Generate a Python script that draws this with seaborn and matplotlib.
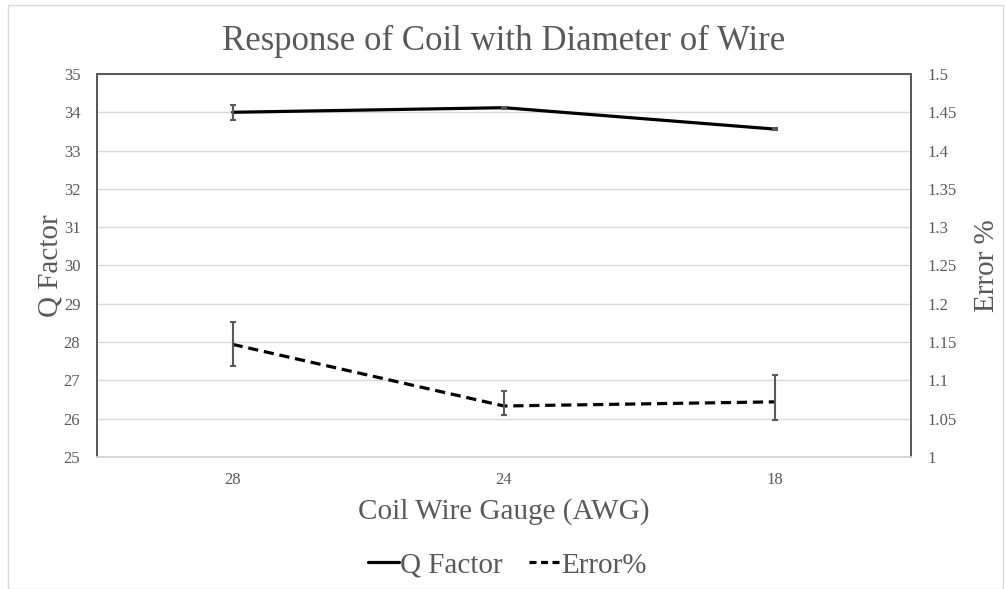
import matplotlib
matplotlib.use("Agg")
import matplotlib.pyplot as plt
import numpy as np
import pandas as pd
import seaborn as sns
from matplotlib.patches import Rectangle
from matplotlib.lines import Line2D

# data
gauges = ["28", "24", "18"]
q_factor = [34.0, 34.12, 33.56]
q_err = [0.2, 0.03, 0.03]
error_pct = [1.147, 1.0666, 1.072]
error_lo = [0.028, 0.0116, 0.0235]
error_hi = [0.029, 0.019, 0.0355]

df = pd.DataFrame({"Gauge": gauges, "Q": q_factor, "Err": error_pct})

sns.set_style("white")
plt.rcParams['font.family'] = ['Liberation Serif', 'DejaVu Serif']
grey = "#595959"
light = "#d9d9d9"

fig = plt.figure(figsize=(10.05, 5.89), dpi=100)
ax = fig.add_axes([0.0965, 0.2241, 0.81, 0.6503])
ax2 = ax.twinx()

sns.lineplot(data=df, x="Gauge", y="Q", ax=ax, color="black", lw=2.3,
             sort=False, legend=False)
sns.lineplot(data=df, x="Gauge", y="Err", ax=ax2, color="black", lw=2.3,
             sort=False, legend=False)
ax2.lines[0].set_dashes([3.2, 1.8])

ax.errorbar(gauges, q_factor, yerr=q_err, fmt="none", ecolor=grey,
            elinewidth=1.5, capsize=2.5, capthick=1.5)
ax2.errorbar(gauges, error_pct, yerr=[error_lo, error_hi], fmt="none",
             ecolor=grey, elinewidth=1.5, capsize=2.5, capthick=1.5)

ax.set_xlim(-0.5, 2.5)
ax.set_ylim(25, 35)
ax.set_yticks(np.arange(25, 35.5, 1))
ax2.set_ylim(1, 1.5)
ticks2 = np.round(np.arange(1, 1.501, 0.05), 2)
ax2.set_yticks(ticks2)
ax2.set_yticklabels([f"{t:g}" for t in ticks2])

ax.grid(axis="y", color=light, lw=1)
ax.set_axisbelow(True)
ax2.grid(False)

for a in (ax, ax2):
    a.tick_params(length=0, labelsize=12, labelcolor=grey)
    for s in ("left", "top", "right"):
        a.spines[s].set_color(grey)
        a.spines[s].set_linewidth(1.3)
    a.spines["bottom"].set_color(light)
    a.spines["bottom"].set_linewidth(1.3)
ax.tick_params(axis="y", pad=12)
ax2.tick_params(axis="y", pad=12)
ax.tick_params(axis="x", pad=11)

ax.set_xlabel("Coil Wire Gauge (AWG)", fontsize=21, color=grey, labelpad=7)
ax.set_ylabel("Q Factor", fontsize=21, color=grey, labelpad=0)
ax2.set_ylabel("Error %", fontsize=21, color=grey, labelpad=12)
ax.set_title("Response of Coil with Diameter of Wire", fontsize=25,
             color=grey, pad=17)

handles = [Line2D([], [], color="black", lw=2.3),
           Line2D([], [], color="black", lw=2.3, dashes=[2.2, 1.4])]
fig.legend(handles, ["Q Factor", "Error%"], loc="center", bbox_to_anchor=(0.505, 0.04),
           ncol=2, frameon=False, fontsize=21, labelcolor=grey,
           handlelength=1.05, handletextpad=0.05, columnspacing=0.9)

fig.patches.append(Rectangle((0.008, 0.0), 0.99, 0.992, transform=fig.transFigure,
                             fill=False, edgecolor=light, lw=1))

fig.savefig("out.png", dpi=100)
